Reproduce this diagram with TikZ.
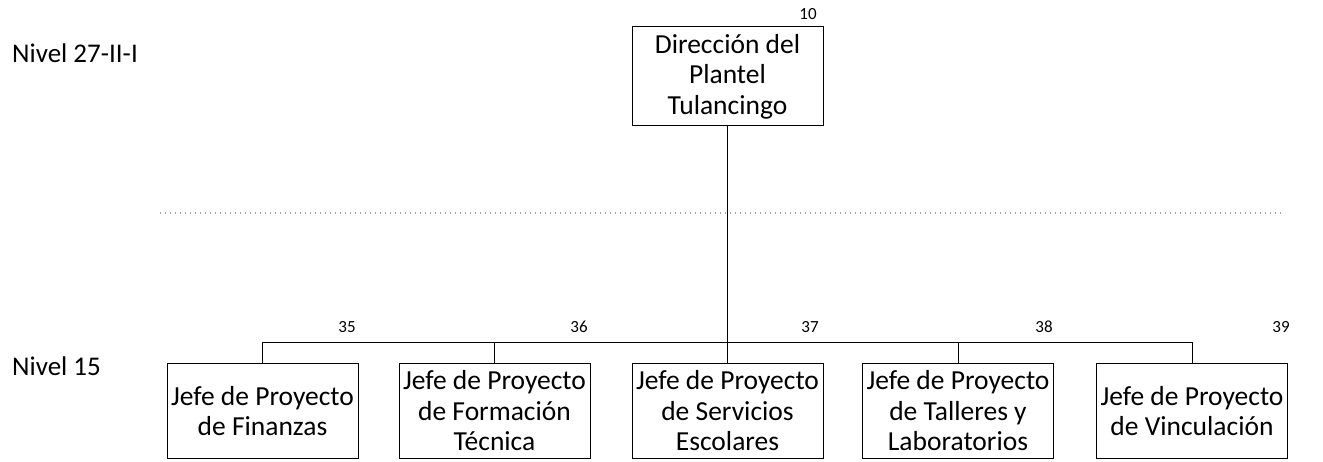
\documentclass[tikz,border=0pt]{standalone}
\usepackage{fontspec}
\setmainfont{Carlito}
\begin{document}
\begin{tikzpicture}[x=1pt,y=-1pt,
  box/.style={draw, line width=1pt, minimum width=191pt, minimum height=94pt, align=center, inner sep=0pt, font=\fontsize{27.5}{30.5}\selectfont},
  num/.style={font=\fontsize{17}{20}\selectfont, inner sep=0pt, anchor=base},
  lvl/.style={font=\fontsize{27}{30}\selectfont, inner sep=0pt, anchor=base west},
  conn/.style={line width=1pt},
  dotline/.style={line width=1.3pt, gray!70, dash pattern=on 1.3pt off 3.7pt}]
\useasboundingbox (0,0) rectangle (1323,462);
% levels
\node[lvl] (lvA) at (12,63) {Nivel 27-II-I};
\node[lvl] (lvB) at (12,375) {Nivel 15};
% boxes
\node[box, minimum height=99pt] (top) at (727.5,76.5) {Dirección del\\Plantel\\Tulancingo};
\node[box] (b1) at (262.5,411) {Jefe de Proyecto\\de Finanzas};
\node[box] (b2) at (494.5,411) {Jefe de Proyecto\\de Formación\\Técnica};
\node[box] (b3) at (727.5,411) {Jefe de Proyecto\\de Servicios\\Escolares};
\node[box] (b4) at (958,411) {Jefe de Proyecto\\de Talleres y\\Laboratorios};
\node[box] (b5) at (1192,411) {Jefe de Proyecto\\de Vinculación};
% numbers
\node[num] (n10) at (808,20) {10};
\node[num] (n35) at (347,333) {35};
\node[num] (n36) at (579,333) {36};
\node[num] (n37) at (810,333) {37};
\node[num] (n38) at (1044,333) {38};
\node[num] (n39) at (1281,333) {39};
% dotted separator
\coordinate (dL) at (160,213);
\coordinate (dR) at (1283,213);
\draw[dotline] (dL) -- (dR);
% connectors
\coordinate (bus) at (0,343);
\draw[conn] (top.south) -- (top.south |- bus);
\draw[conn] (b1.north) -- (b1.north |- bus) -- (b5.north |- bus) -- (b5.north);
\draw[conn] (b2.north) -- (b2.north |- bus);
\draw[conn] (b3.north) -- (b3.north |- bus);
\draw[conn] (b4.north) -- (b4.north |- bus);
\end{tikzpicture}
\end{document}
